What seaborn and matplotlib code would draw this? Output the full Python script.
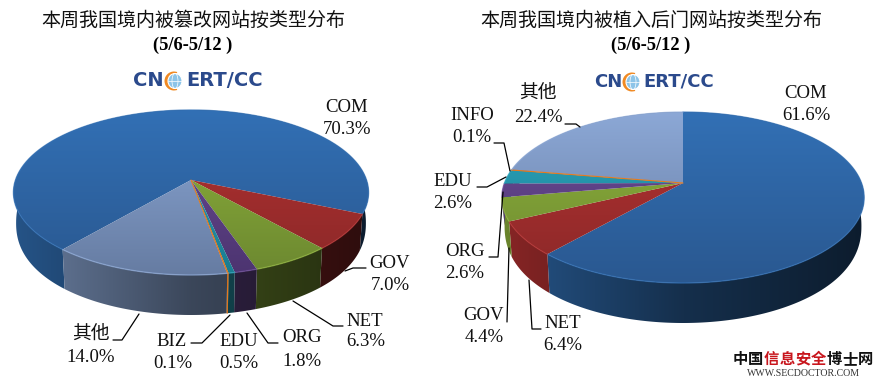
import numpy as np
import matplotlib
matplotlib.use('Agg')
import matplotlib.pyplot as plt
from matplotlib.patches import Polygon, Ellipse, Wedge
import seaborn as sns

# chart data
left_categories = ['COM', 'GOV', 'NET', 'ORG', 'EDU', 'BIZ', '其他']
left_values = [70.3, 7.0, 6.3, 1.8, 0.5, 0.1, 14.0]
right_categories = ['COM', 'NET', 'GOV', 'ORG', 'EDU', 'INFO', '其他']
right_values = [61.6, 6.4, 4.4, 2.6, 2.6, 0.1, 22.4]

left_title = '本周我国境内被篡改网站按类型分布'
right_title = '本周我国境内被植入后门网站按类型分布'
date_range = '(5/6-5/12 )'

# slice colours, gradient top -> bottom of the pie surface
top_colors = ['#3270B5', '#B53232', '#8FB33C', '#6E4D98', '#2CA6BE', '#E57A1E', '#8CA8D6']
low_colors = ['#2A5890', '#8A2828', '#6C8830', '#4C3470', '#1A7C90', '#C06018', '#667CA2']

# label layout in pixels: (name x, name y, value x, value y), elbow leader line
left_layout = [
    (347, 107, 347, 129, None),
    (389, 263, 390, 285, [(345, 271), (353, 268), (366, 268)]),
    (365, 321, 366, 342, [(293, 301), (333, 326), (343, 326)]),
    (302, 338, 302, 361, [(247, 313), (268, 343), (278, 343)]),
    (239, 341, 239, 363, None),
    (172, 342, 173, 364, [(230, 315), (202, 343), (191, 343)]),
    (91, 334, 91, 358, [(139, 314), (122, 340), (113, 340)]),
]
right_layout = [
    (806, 94, 806, 115, None),
    (563, 323, 563, 345, [(541, 329), (532, 329), (529, 280)]),
    (483, 316, 484, 338, [(507, 322), (509, 248)]),
    (465, 251, 465, 273, [(489, 257), (498, 257), (503, 192)]),
    (453, 182, 453, 204, [(477, 187), (487, 187), (506, 177)]),
    (472, 115, 472, 137, [(494, 143), (504, 143), (510, 171)]),
    (538, 93, 538, 117, [(565, 124), (576, 124), (580, 127)]),
]

sns.set_theme(style='white')
plt.rcParams['font.family'] = ['Liberation Serif', 'Noto Sans CJK SC', 'DejaVu Sans']

fig = plt.figure(figsize=(8.82, 3.82), dpi=100, facecolor='white')
ax = fig.add_axes([0, 0, 1, 1])


def project(theta, g):
    # perspective view of the unit circle, apex at (cx, cy)
    w = 1 + g['p'] * np.sin(theta)
    return g['cx'] + g['A'] * np.cos(theta) / w, g['cy'] - g['B'] * np.sin(theta) / w


def lower_rim(theta, g):
    # bottom edge of the wall, slightly fuller than an ellipse
    x, _ = project(theta, g)
    rx = g['A'] / np.sqrt(1 - g['p'] ** 2)
    f = np.clip(1 - ((x - g['cx']) / rx) ** 2, 0, 1) ** 0.45
    sign = np.where(np.sin(theta) < -g['p'], 1.0, -1.0)
    return g['cx'] + 0.985 * (x - g['cx']), g['low_cy'] + sign * g['low_ry'] * f


def gradient_fill(pts, cmap, extent, vertical, z):
    grad = np.linspace(0, 1, 256)
    grad = grad[:, None] if vertical else grad[None, :]
    im = ax.imshow(grad, cmap=cmap, extent=extent, aspect='auto', origin='upper',
                   interpolation='bilinear', vmin=0, vmax=1, zorder=z)
    patch = Polygon(pts, closed=True, facecolor='none', edgecolor='none',
                    transform=ax.transData, zorder=z)
    ax.add_patch(patch)
    im.set_clip_path(patch)


def draw_pie(values, start, g, layout, names):
    values = np.array(values, dtype=float)
    bounds = np.radians(start - np.concatenate([[0], np.cumsum(values)]) / values.sum() * 360)
    left_x, right_x = g['cx'] - g['A'] * 1.02, g['cx'] + g['A'] * 1.02
    top_y, low_y = g['cy'] - g['B'] / (1 + g['p']), g['cy'] + g['B'] / (1 - g['p'])

    for i in range(len(values)):
        th = np.linspace(bounds[i], bounds[i + 1], max(int(values[i] * 6), 4))
        # side wall, light from the left
        tx, ty = project(th, g)
        bx, by = lower_rim(th, g)
        side = np.vstack([np.column_stack([tx, ty]), np.column_stack([bx, by])[::-1]])
        base = np.array(matplotlib.colors.to_rgb(top_colors[i]))
        side_cmap = sns.blend_palette([base * 0.75, base * 0.42, base * 0.25], as_cmap=True)
        gradient_fill(side, side_cmap, (left_x, right_x, g['cy'] + 160, g['cy'] - 100), False, 2)

    for i in range(len(values)):
        th = np.linspace(bounds[i], bounds[i + 1], max(int(values[i] * 6), 4))
        tx, ty = project(th, g)
        surface = np.vstack([[g['cx'], g['cy']], np.column_stack([tx, ty])])
        top_cmap = sns.blend_palette([top_colors[i], low_colors[i]], as_cmap=True)
        gradient_fill(surface, top_cmap, (left_x, right_x, low_y, top_y), True, 3)
        # soft bevel along the rim
        ax.plot(tx, ty, color=top_colors[i], lw=1.0, alpha=0.7, zorder=4)
        # very thin slices would vanish, so trace them
        if values[i] < 0.3:
            mid = (bounds[i] + bounds[i + 1]) / 2
            mx, my = project(mid, g)
            ax.plot([g['cx'], mx], [g['cy'], my], color=top_colors[i], lw=0.8, zorder=4)
            if np.sin(mid) < -g['p']:
                lx, ly = lower_rim(mid, g)
                ax.plot([mx, lx], [my, ly], color=top_colors[i], lw=0.8, zorder=4)

    for i, (nx, ny, vx, vy, leader) in enumerate(layout):
        ax.text(nx, ny, names[i], fontsize=13.5, ha='center', va='center', color='#111111', zorder=6)
        ax.text(vx, vy, f'{values[i]:.1f}%', fontsize=13.5, ha='center', va='center', color='#111111', zorder=6)
        if leader is not None:
            ax.plot(*zip(*leader), color='black', lw=0.9, zorder=5)


def draw_logo(x, y, size, ring_dx, ert_dx):
    # CNCERT/CC mark: text with the C drawn as an orange ring round a globe
    ax.text(x, y, 'CN', fontsize=size, family='DejaVu Sans', weight='bold', color='#2B4A8C',
            ha='left', va='center')
    ax.text(x + ert_dx, y, 'ERT/CC', fontsize=size, family='DejaVu Sans', weight='bold', color='#2B4A8C',
            ha='left', va='center')
    ax.add_patch(Wedge((x + ring_dx, y), 9.5, 70, 290, width=3.5, facecolor='#F08A24', edgecolor='none', zorder=5))
    ax.add_patch(Ellipse((x + ring_dx + 1, y), 14, 15, facecolor='#8CC4E8', edgecolor='white', lw=0.8, zorder=6))
    ax.add_patch(Ellipse((x + ring_dx + 1, y), 6, 15, facecolor='none', edgecolor='white', lw=0.5, zorder=7))
    ax.plot([x + ring_dx - 6, x + ring_dx + 8], [y, y], color='white', lw=0.5, zorder=7)


left_geom = dict(cx=191, cy=180, A=175.5, B=80.6, p=0.1515, low_cy=223, low_ry=92)
right_geom = dict(cx=683, cy=183, A=178.5, B=83, p=0.17, low_cy=226, low_ry=97)

draw_pie(left_values, 229.7, left_geom, left_layout, left_categories)
draw_pie(right_values, 90, right_geom, right_layout, right_categories)

# headings
ax.text(193, 20, left_title, fontsize=13.7, family='Noto Sans CJK SC', ha='center', va='center', color='#111111')
ax.text(193, 45, date_range, fontsize=13.3, weight='bold', ha='center', va='center', color='black')
ax.text(651, 20, right_title, fontsize=13.7, family='Noto Sans CJK SC', ha='center', va='center', color='#111111')
ax.text(651, 45, date_range, fontsize=13.3, weight='bold', ha='center', va='center', color='black')

draw_logo(133, 81, 14, 41, 53)
draw_logo(594, 82, 13, 38, 49)

# watermark, bottom right
mark_chars = '中国信息安全博士网'
for i, ch in enumerate(mark_chars):
    ax.text(740 + i * 15.7, 359, ch, fontsize=11, family='Noto Sans CJK SC', weight='bold',
            color='#C8161D' if 2 <= i <= 5 else '#111111', ha='center', va='center')
ax.text(803, 374, 'WWW.SECDOCTOR.COM', fontsize=7.1, color='#333333', ha='center', va='center')

ax.set_xlim(0, 882)
ax.set_ylim(382, 0)
ax.axis('off')

fig.savefig('out.png', dpi=100)
